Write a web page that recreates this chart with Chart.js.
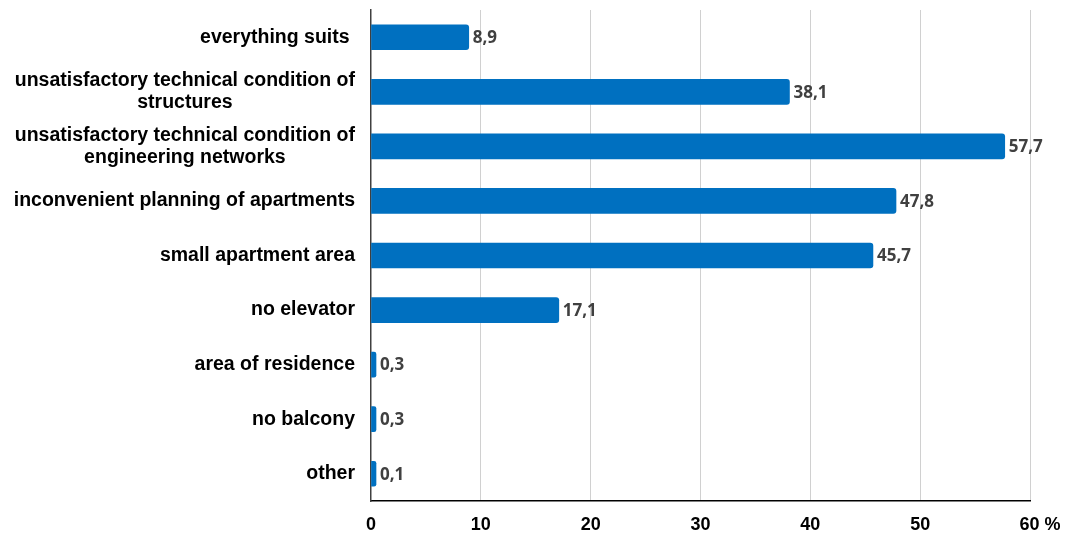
<!DOCTYPE html>
<html>
<head>
<meta charset="utf-8">
<script src="https://cdn.jsdelivr.net/npm/chart.js@4"></script>
<style>
  html, body { margin: 0; padding: 0; background: #fff; }
  #wrap { width: 1065px; height: 536px; }
</style>
</head>
<body>
<div id="wrap"><canvas id="reasonsChart"></canvas></div>
<script>
// categories (multi-line ones as arrays) and shares in %
const categories = [
    ['everything suits '],
    ['unsatisfactory technical condition of', 'structures'],
    ['unsatisfactory technical condition of', 'engineering networks'],
    ['inconvenient planning of apartments'],
    ['small apartment area'],
    ['no elevator'],
    ['area of residence'],
    ['no balcony'],
    ['other']
];
const shares = [8.9, 38.1, 57.7, 47.8, 45.7, 17.1, 0.3, 0.3, 0.1];
const xTicks = [0, 10, 20, 30, 40, 50, 60];

const labelFont = 'bold 19.5px "Liberation Sans", Arial, sans-serif';

// category labels: block right aligned, lines centered within the block
const categoryLabels = {
    id: 'categoryLabels',
    afterDraw(chart) {
        const ctx = chart.ctx;
        const yScale = chart.scales.y;
        const right = chart.chartArea.left - 16;
        const lineH = 22;
        ctx.save();
        ctx.font = labelFont;
        ctx.fillStyle = '#000';
        ctx.textBaseline = 'middle';
        categories.forEach((lines, i) => {
            const yc = yScale.getPixelForValue(i);
            const w = Math.max(...lines.map(l => ctx.measureText(l).width));
            const cx = right - w / 2;
            const top = yc - (lines.length - 1) * lineH / 2;
            lines.forEach((l, j) => {
                if (lines.length === 1) {
                    ctx.textAlign = 'right';
                    ctx.fillText(l, right, top);
                } else {
                    ctx.textAlign = 'center';
                    ctx.fillText(l, cx, top + j * lineH);
                }
            });
        });
        ctx.restore();
    }
};

// value labels at the end of each bar
const valueLabels = {
    id: 'valueLabels',
    afterDatasetsDraw(chart) {
        const ctx = chart.ctx;
        const meta = chart.getDatasetMeta(0);
        ctx.save();
        ctx.font = 'bold 17px "Open Sans", sans-serif';
        ctx.fillStyle = '#404040';
        ctx.textBaseline = 'middle';
        ctx.textAlign = 'left';
        meta.data.forEach((bar, i) => {
            const txt = shares[i].toFixed(1).replace('.', ',');
            ctx.fillText(txt, bar.x + 4, bar.y + 1);
        });
        ctx.restore();
    }
};

new Chart(document.getElementById('reasonsChart'), {
    type: 'bar',
    data: {
        labels: categories.map(c => c.join(' ')),
        datasets: [{
            data: shares,
            backgroundColor: '#0070C0',
            borderRadius: 3,
            barThickness: 25,
            minBarLength: 5
        }]
    },
    plugins: [categoryLabels, valueLabels],
    options: {
        indexAxis: 'y',
        responsive: true,
        maintainAspectRatio: false,
        animation: false,
        layout: {
            padding: { top: 10, right: 35, bottom: 0, left: 0 }
        },
        plugins: {
            legend: { display: false },
            tooltip: { enabled: false }
        },
        scales: {
            x: {
                min: 0,
                max: 60,
                afterBuildTicks: (scale) => {
                    scale.ticks = xTicks.map(v => ({ value: v }));
                },
                afterFit: (scale) => {
                    scale.height = 35;
                    scale.paddingRight = 0;
                    scale.paddingLeft = 0;
                },
                ticks: {
                    padding: 13,
                    color: '#000',
                    font: { family: '"Liberation Sans", Arial, sans-serif', size: 18, weight: 'bold' },
                    callback: (v) => v === 60 ? '    60 %' : String(v)
                },
                grid: {
                    color: (c) => c.tick && c.tick.value === 0 ? 'rgba(0,0,0,0)' : '#d0d0d0',
                    drawTicks: false
                },
                border: { color: '#000', width: 1.5 }
            },
            y: {
                afterFit: (scale) => {
                    scale.width = 371;
                },
                ticks: { display: false },
                grid: { display: false, drawTicks: false },
                border: { color: '#404040', width: 1.5 }
            }
        }
    }
});
</script>
</body>
</html>
